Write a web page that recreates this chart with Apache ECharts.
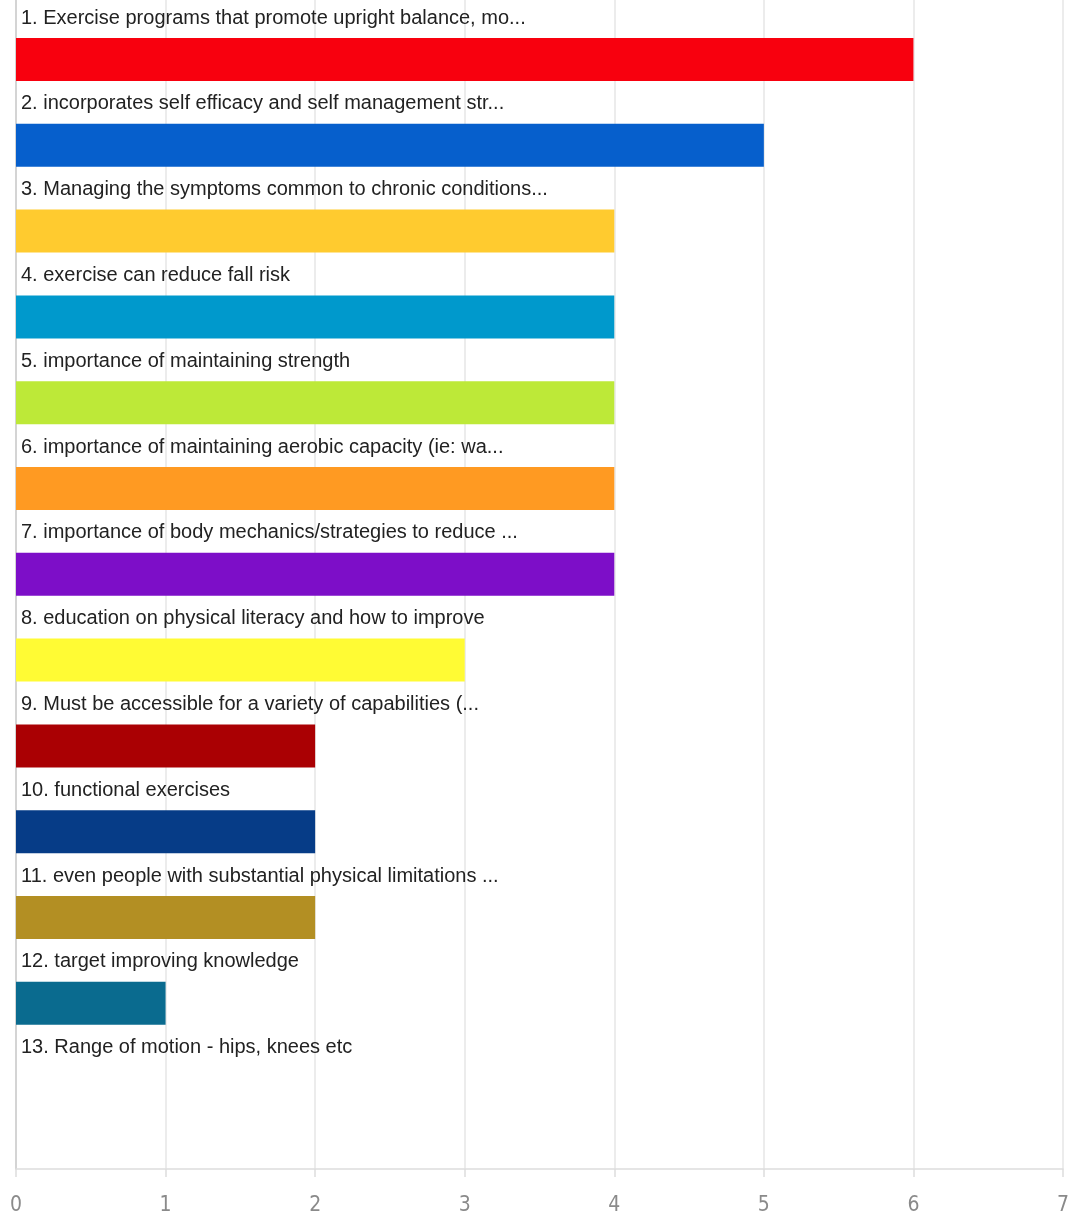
<!DOCTYPE html>
<html>
<head>
<meta charset="utf-8">
<script src="https://cdn.jsdelivr.net/npm/echarts@6/dist/echarts.min.js"></script>
<style>
  html, body { margin: 0; padding: 0; background: #fff; }
  #chart { width: 1068px; height: 1219px; }
</style>
</head>
<body>
<div id="chart"></div>
<script>
// Answer options, in ranked order
var categories = [
  '1. Exercise programs that promote upright balance, mo...',
  '2. incorporates self efficacy and self management str...',
  '3. Managing the symptoms common to chronic conditions...',
  '4. exercise can reduce fall risk',
  '5. importance of maintaining strength',
  '6. importance of maintaining aerobic capacity (ie: wa...',
  '7. importance of body mechanics/strategies to reduce ...',
  '8. education on physical literacy and how to improve',
  '9. Must be accessible for a variety of capabilities (...',
  '10. functional exercises',
  '11. even people with substantial physical limitations ...',
  '12. target improving knowledge',
  '13. Range of motion - hips, knees etc'
];
// Number of responses per option
var counts = [6, 5, 4, 4, 4, 4, 4, 3, 2, 2, 2, 1, 0];
var barColors = [
  '#f8000e', '#065fcc', '#ffcb2f', '#0099cc', '#bde938', '#ff9a22', '#7d0ec8',
  '#fffb34', '#aa0003', '#063c87', '#b38f23', '#0a6b8f', '#888888'
];
var xTicks = { min: 0, max: 7, interval: 1 };

var chart = echarts.init(document.getElementById('chart'), null, { renderer: 'canvas' });

var barData = counts.map(function (v, i) {
  return { value: v, itemStyle: { color: barColors[i] } };
});

chart.setOption({
  animation: false,
  grid: [
    // bars
    { left: 16, right: 5, top: 16.6, height: 1115.4, outerBoundsMode: 'none', containLabel: false },
    // frame with value axis and grid lines
    { left: 16, right: 5, top: 0, bottom: 50, outerBoundsMode: 'none', containLabel: false }
  ],
  xAxis: [
    {
      gridIndex: 0, type: 'value', min: xTicks.min, max: xTicks.max, interval: xTicks.interval,
      show: false
    },
    {
      gridIndex: 1, type: 'value', min: xTicks.min, max: xTicks.max, interval: xTicks.interval,
      axisLine: { show: true, lineStyle: { color: '#dddddd', width: 1.5 } },
      axisTick: { show: true, length: 8, lineStyle: { color: '#dddddd', width: 1.5 } },
      splitLine: { show: true, lineStyle: { color: '#e6e6e6', width: 1.5 } },
      axisLabel: {
        color: '#8a8a8a', fontSize: 21, fontFamily: 'DejaVu Sans Condensed, DejaVu Sans',
        margin: 26
      }
    }
  ],
  yAxis: [
    {
      gridIndex: 0, type: 'category', data: categories, inverse: true,
      axisLine: { show: false }, axisTick: { show: false }, splitLine: { show: false },
      axisLabel: {
        inside: true, margin: 5, color: '#222222', fontSize: 20,
        fontFamily: 'Liberation Sans Narrow, Arial Narrow, Liberation Sans, sans-serif',
        interval: 0, showMinLabel: true, showMaxLabel: true, hideOverlap: false,
        verticalAlign: 'middle', lineHeight: 83,
        // label sits on the upper half-line, above its bar
        formatter: function (v) { return v + '\n '; }
      },
      z: 5
    },
    {
      gridIndex: 1, type: 'value', min: 0, max: 1,
      axisLine: { show: true, lineStyle: { color: '#cccccc', width: 1.5 } },
      axisTick: { show: false }, axisLabel: { show: false }, splitLine: { show: false }
    }
  ],
  series: [
    {
      type: 'bar', xAxisIndex: 0, yAxisIndex: 0,
      data: barData, barWidth: 43, z: 3
    }
  ]
});
</script>
</body>
</html>
